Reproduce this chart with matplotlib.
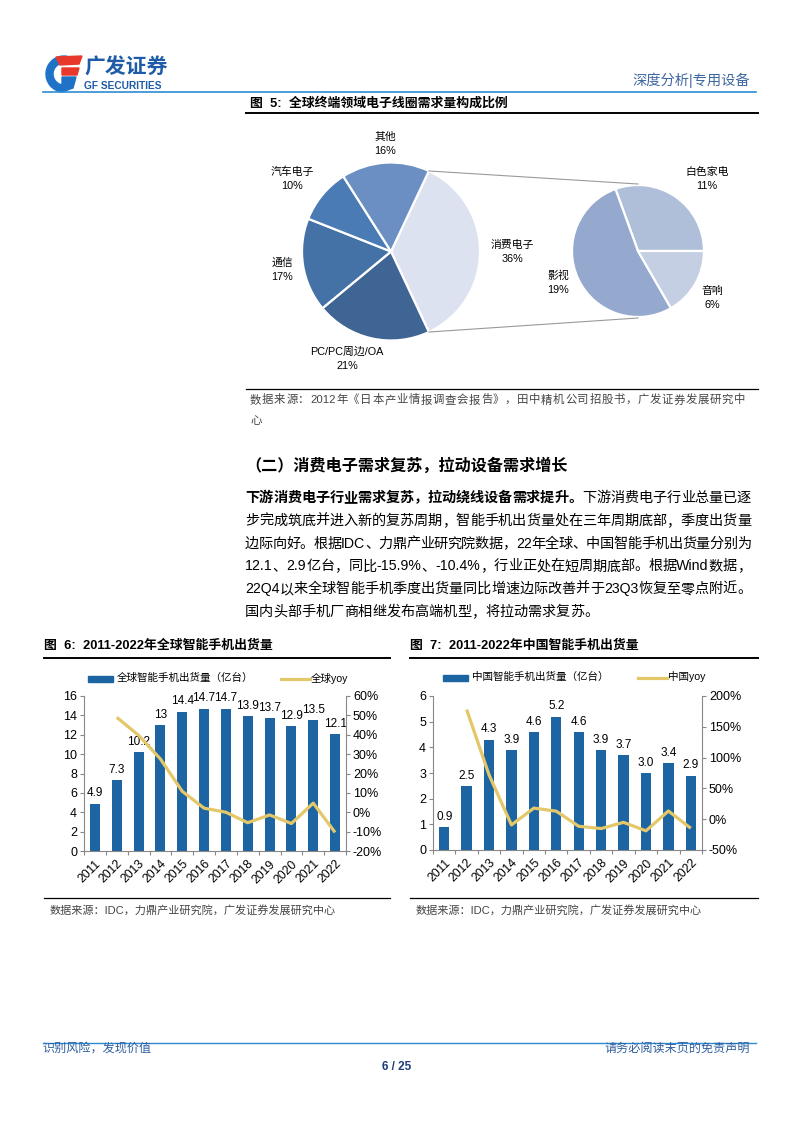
import re
import numpy as np
import matplotlib
matplotlib.use('Agg')
import matplotlib.pyplot as plt
from matplotlib.patches import Rectangle, Wedge, Polygon
from matplotlib.lines import Line2D
from matplotlib.ticker import FuncFormatter

plt.rcParams['font.family'] = ['Liberation Sans', 'Noto Sans CJK SC', 'DejaVu Sans']

# ---------------- data ----------------
main_labels = ['消费电子', 'PC/PC周边/OA', '通信', '汽车电子', '其他']
main_values = [36, 21, 17, 10, 16]
sub_labels = ['白色家电', '影视', '音响']
sub_values = [11, 19, 6]

years = ['2011', '2012', '2013', '2014', '2015', '2016', '2017', '2018', '2019', '2020', '2021', '2022']
global_ship = [4.9, 7.3, 10.2, 13, 14.4, 14.7, 14.7, 13.9, 13.7, 12.9, 13.5, 12.1]
global_ship_labels = ['4.9', '7.3', '10.2', '13', '14.4', '14.7', '14.7', '13.9', '13.7', '12.9', '13.5', '12.1']
global_yoy = [np.nan, 49.0, 39.7, 27.5, 10.8, 2.1, 0.0, -5.4, -1.4, -5.8, 4.7, -10.4]
china_ship = [0.9, 2.5, 4.3, 3.9, 4.6, 5.2, 4.6, 3.9, 3.7, 3.0, 3.4, 2.9]
china_ship_labels = ['0.9', '2.5', '4.3', '3.9', '4.6', '5.2', '4.6', '3.9', '3.7', '3.0', '3.4', '2.9']
china_yoy = [np.nan, 178.0, 72.0, -9.3, 18.0, 13.0, -11.5, -15.2, -5.1, -18.9, 13.3, -14.7]

# ---------------- figure ----------------
W, H = 794, 1123
fig = plt.figure(figsize=(W / 100, H / 100), dpi=100)
fig.patch.set_facecolor('white')

bg = fig.add_axes([0, 0, 1, 1])
bg.set_xlim(0, W)
bg.set_ylim(H, 0)
bg.axis('off')

pa = fig.add_axes([0, 0, 1, 1])
pa.set_xlim(0, W)
pa.set_ylim(0, H)
pa.set_aspect('equal')
pa.axis('off')
pa.patch.set_alpha(0)

renderer = fig.canvas.get_renderer()

BLUE_HDR = '#2E8BD3'
TXT_BLUE = '#2F5E9E'
GREY = '#444444'


def hline(x0, x1, y, color='black', lw=1.0):
    bg.add_line(Line2D([x0, x1], [y, y], color=color, lw=lw))


def txt(x, y, s, size=9, color='black', weight='normal', ha='left', va='center', **kw):
    return bg.text(x, y, s, fontsize=size, color=color, weight=weight, ha=ha, va=va, **kw)


def advance(tok, size, weight):
    t1 = bg.text(0, 0, 'H' + tok + 'H', fontsize=size, weight=weight)
    t2 = bg.text(0, 0, 'HH', fontsize=size, weight=weight)
    w = t1.get_window_extent(renderer).width - t2.get_window_extent(renderer).width
    t1.remove(); t2.remove()
    return w


def para_line(segments, x0, x1, y, size, justify=True, color='black'):
    toks = []
    for s, wgt in segments:
        for tk in re.findall(r'[A-Za-z0-9.%\-]+|.', s):
            toks.append((tk, wgt, advance(tk, size, wgt)))
    total = sum(t[2] for t in toks)
    gap = (x1 - x0 - total) / (len(toks) - 1) if (justify and len(toks) > 1) else 0
    x = x0
    for tk, wgt, w in toks:
        bg.text(x, y, tk, fontsize=size, weight=wgt, ha='left', va='center', color=color)
        x += w + gap


# ---------------- header ----------------
# logo
bg.add_patch(Wedge((64, 74), 18, 95, 280, width=7, color='#1F73C6'))
bg.add_patch(Polygon([[56, 57], [82, 56], [79, 64], [60, 65]], closed=True, color='#E8372B'))
bg.add_patch(Polygon([[62, 68], [79, 68], [77, 75], [62, 75]], closed=True, color='#E8372B'))
bg.add_patch(Polygon([[62, 77], [76, 77], [73, 88], [62, 92]], closed=True, color='#1F73C6'))
txt(84, 68, '广发证券', size=15, color='#1E5BA8', weight='bold')
txt(84, 86, 'GF SECURITIES', size=7.3, color='#1E5BA8', weight='bold')
txt(750, 80, '深度分析|专用设备', size=10.3, color='#3F67A0', ha='right')
hline(43, 756, 91.5, color=BLUE_HDR, lw=1.2)

# ---------------- figure 5 ----------------
txt(250, 103, '图  5:  全球终端领域电子线圈需求量构成比例', size=9.3, weight='bold')
hline(246, 758, 113, lw=1.4)

mc = (391, H - 251.5)
mr = 89
start = 360 * main_values[0] / sum(main_values) / 2
pa.pie(main_values, center=mc, radius=mr, startangle=start, counterclock=False,
       colors=['#DCE2EF', '#3E6594', '#4472A6', '#4B7BB5', '#6B8FC3'],
       wedgeprops=dict(edgecolor='white', linewidth=1.6), frame=True)
sc = (638, H - 251)
sr = 66
pa.pie(sub_values, center=sc, radius=sr, startangle=0, counterclock=True,
       colors=['#AFBFD9', '#95A9CF', '#C5CFE3'],
       wedgeprops=dict(edgecolor='white', linewidth=1.6), frame=True)
pa.set_xlim(0, W)
pa.set_ylim(0, H)
pa.axis('off')
ang = np.deg2rad(start)
pa.add_line(Line2D([mc[0] + mr * np.cos(ang), sc[0]], [mc[1] + mr * np.sin(ang), sc[1] + sr + 1],
                   color='#9A9A9A', lw=0.8))
pa.add_line(Line2D([mc[0] + mr * np.cos(ang), sc[0]], [mc[1] - mr * np.sin(ang), sc[1] - sr - 1],
                   color='#9A9A9A', lw=0.8))

pie_label_pos = {
    '其他': (385, 137), '汽车电子': (292, 172), '通信': (282, 263),
    'PC/PC周边/OA': (347, 352), '消费电子': (512, 245),
    '白色家电': (707, 172), '影视': (558, 276), '音响': (712, 291),
}
for lab, v in list(zip(main_labels, main_values)) + list(zip(sub_labels, sub_values)):
    x, y = pie_label_pos[lab]
    txt(x, y, lab, size=7.8, ha='center')
    txt(x, y + 14, f'{v}%', size=7.8, ha='center')

hline(246, 758, 389, lw=0.9)
para_line([('数据来源：2012年《日本产业情报调查会报告》，田中精机公司招股书，广发证券发展研究中', 'normal')],
          250, 745, 400, 8.2, justify=True, color=GREY)
txt(250, 421, '心', size=8.2, color=GREY)

# ---------------- section text ----------------
txt(245, 466, '（二）消费电子需求复苏，拉动设备需求增长', size=11.6, weight='bold')

PS = 10.2
x0, x1 = 245, 751
lines = [
    [('下游消费电子行业需求复苏，拉动绕线设备需求提升。', 'bold'), ('下游消费电子行业总量已逐', 'normal')],
    [('步完成筑底并进入新的复苏周期，智能手机出货量处在三年周期底部，季度出货量', 'normal')],
    [('边际向好。根据IDC、力鼎产业研究院数据，22年全球、中国智能手机出货量分别为', 'normal')],
    [('12.1、2.9亿台，同比-15.9%、-10.4%，行业正处在短周期底部。根据Wind数据，', 'normal')],
    [('22Q4以来全球智能手机季度出货量同比增速边际改善并于23Q3恢复至零点附近。', 'normal')],
    [('国内头部手机厂商相继发布高端机型，将拉动需求复苏。', 'normal')],
]
for i, seg in enumerate(lines):
    para_line(seg, x0, x1, 498 + 22.8 * i, PS, justify=(i < len(lines) - 1))

# ---------------- charts 6 & 7 ----------------
BAR = '#1C64A2'
GOLD = '#E4C768'


def px_rect(l, r, t, b):
    return [l / W, 1 - b / H, (r - l) / W, (b - t) / H]


def chart(rect, ship, labels, yoy, ylim, yticks, rylim, rticks, names, leg):
    ax = fig.add_axes(rect)
    x = np.arange(len(years))
    ax.bar(x, ship, width=0.46, color=BAR, zorder=2)
    for xi, v, lab in zip(x, ship, labels):
        ax.annotate(lab, (xi, v), xytext=(0, 3), textcoords='offset points',
                    ha='center', va='bottom', fontsize=8.5)
    ax.set_xlim(-0.5, len(years) - 0.5)
    ax.set_ylim(*ylim)
    ax.set_yticks(yticks)
    ax.set_xticks(x)
    ax.set_xticklabels(years, rotation=45, ha='right', rotation_mode='anchor', fontsize=8.8)
    ax.set_xticks(np.arange(-0.5, len(years), 1), minor=True)
    ax.tick_params(axis='x', which='major', length=0, pad=5)
    ax.tick_params(axis='x', which='minor', length=3, color='#888888', width=0.8)
    ax.tick_params(axis='y', labelsize=9, length=3, color='#888888', width=0.8, pad=2)
    for s in ['top', 'right']:
        ax.spines[s].set_visible(False)
    for s in ['left', 'bottom']:
        ax.spines[s].set_color('#888888')
        ax.spines[s].set_linewidth(0.8)
    ax2 = ax.twinx()
    ax2.plot(x, yoy, color=GOLD, lw=2.3, solid_capstyle='butt', zorder=3)
    ax2.set_ylim(*rylim)
    ax2.set_yticks(rticks)
    ax2.yaxis.set_major_formatter(FuncFormatter(lambda v, p: f'{v:.0f}%'))
    ax2.tick_params(axis='y', labelsize=9, length=3, color='#888888', width=0.8, pad=2)
    for s in ['top', 'left', 'bottom']:
        ax2.spines[s].set_visible(False)
    ax2.spines['right'].set_color('#888888')
    ax2.spines['right'].set_linewidth(0.8)
    # legend
    lx, ly, lx2 = leg
    bg.add_patch(Rectangle((lx, ly - 3), 25, 6, color=BAR))
    txt(lx + 29, ly - 1, names[0], size=7.6)
    bg.add_line(Line2D([lx2, lx2 + 29], [ly, ly], color=GOLD, lw=2.3))
    txt(lx2 + 30, ly - 1, names[1], size=7.6)
    return ax


txt(44, 646, '图  6:  2011-2022年全球智能手机出货量', size=9.3, weight='bold')
hline(44, 390, 658, lw=1.4)
chart(px_rect(84, 346, 696, 851), global_ship, global_ship_labels, global_yoy,
      (0, 16), np.arange(0, 17, 2), (-20, 60), np.arange(-20, 61, 10),
      ['全球智能手机出货量（亿台）', '全球yoy'], (88, 679, 281))
hline(44, 390, 898, lw=0.9)
txt(50, 910, '数据来源：IDC，力鼎产业研究院，广发证券发展研究中心', size=8, color=GREY)

txt(410, 646, '图  7:  2011-2022年中国智能手机出货量', size=9.3, weight='bold')
hline(410, 758, 658, lw=1.4)
chart(px_rect(433, 702, 696, 850), china_ship, china_ship_labels, china_yoy,
      (0, 6), np.arange(0, 7, 1), (-50, 200), np.arange(-50, 201, 50),
      ['中国智能手机出货量（亿台）', '中国yoy'], (443, 678, 638))
hline(410, 758, 898, lw=0.9)
txt(416, 910, '数据来源：IDC，力鼎产业研究院，广发证券发展研究中心', size=8, color=GREY)

# ---------------- footer ----------------
hline(43, 756, 1043, color=BLUE_HDR, lw=1.0)
txt(42, 1049, '识别风险，发现价值', size=8.7, color=TXT_BLUE)
txt(750, 1049, '请务必阅读末页的免责声明', size=8.7, color=TXT_BLUE, ha='right')
txt(397, 1067, '6 / 25', size=8.5, color='#1F3F7A', weight='bold', ha='center')

fig.savefig('out.png', dpi=100, facecolor='white')
